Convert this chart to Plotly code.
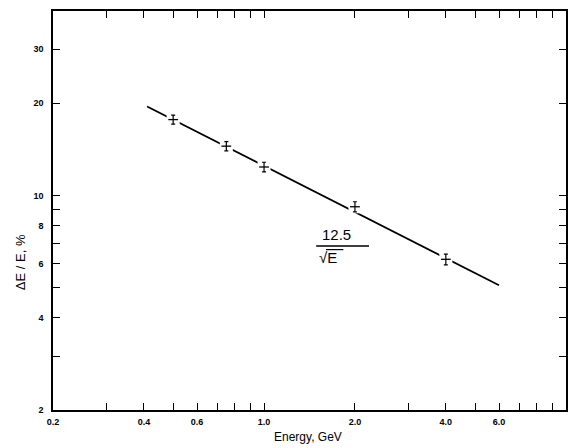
import numpy as np
import plotly.graph_objects as go

# Data
energy = [0.5, 0.75, 1.0, 2.0, 4.0]          # GeV
resolution = [17.7, 14.5, 12.4, 9.2, 6.2]     # dE/E, %
res_err = [0.6, 0.5, 0.45, 0.35, 0.25]        # vertical error, %
fit_coef = 12.5                               # 12.5 / sqrt(E)
fit_energy = [0.41, 0.5, 0.75, 1.0, 2.0, 4.0, 6.0]
fit_values = [fit_coef / np.sqrt(e) for e in fit_energy]

x_tickvals = [0.2, 0.3, 0.4, 0.5, 0.6, 0.7, 0.8, 0.9, 1.0, 2, 3, 4, 5, 6, 7, 8, 9]
x_ticktext = ["0.2", "", "0.4", "", "0.6", "", "", "", "1.0", "2.0", "", "4.0", "", "6.0", "", "", ""]
y_tickvals = [2, 3, 4, 5, 6, 7, 8, 9, 10, 20, 30]
y_ticktext = ["2", "", "4", "", "6", "", "8", "", "10", "20", "30"]

FONT = "Liberation Sans, Arial, sans-serif"

fig = go.Figure()
fig.add_trace(go.Scatter(x=fit_energy, y=fit_values, mode="lines",
                         line=dict(color="black", width=1.8), hoverinfo="skip"))
# white gaps around the measured points
fig.add_trace(go.Scatter(x=energy, y=resolution, mode="markers",
                         marker=dict(symbol="square", size=13, color="white", line=dict(width=0)),
                         hoverinfo="skip"))
fig.add_trace(go.Scatter(x=energy, y=resolution, mode="markers",
                         marker=dict(symbol="line-ew", size=7, line=dict(color="black", width=1.3)),
                         error_y=dict(type="data", array=res_err, color="black", thickness=1.2, width=2)))

fig.update_layout(
    width=577, height=448,
    margin=dict(l=53, r=9, t=11, b=38),
    paper_bgcolor="white", plot_bgcolor="white",
    showlegend=False,
    font=dict(family=FONT, color="black", size=9),
)
axis_common = dict(type="log", showgrid=False, zeroline=False, showline=True, linecolor="black",
                   linewidth=1.6, mirror="ticks", ticks="inside", ticklen=7, tickwidth=1.2,
                   tickcolor="black", tickfont=dict(size=9, family=FONT, weight="bold"))
fig.update_xaxes(range=[np.log10(0.2), np.log10(10)], tickvals=x_tickvals, ticktext=x_ticktext,
                 ticklabelstandoff=2, **axis_common)
fig.update_yaxes(range=[np.log10(2), np.log10(40)], tickvals=y_tickvals, ticktext=y_ticktext,
                 ticklabelstandoff=6, **axis_common)

fig.add_annotation(text="Energy, GeV", xref="paper", yref="paper", x=0.497, y=-0.068,
                   xanchor="center", yanchor="middle",
                   showarrow=False, font=dict(size=12, family=FONT))
fig.add_annotation(text="ΔE / E, %", xref="paper", yref="paper", x=-0.062, y=0.371,
                   xanchor="center", yanchor="middle",
                   textangle=-90, showarrow=False, font=dict(size=13, family=FONT))
fig.add_annotation(text="12.5", xref="paper", yref="paper", x=0.552, y=0.44,
                   xanchor="center", yanchor="middle",
                   showarrow=False, font=dict(size=15, family=FONT))
fig.add_annotation(text="√E", xref="paper", yref="paper", x=0.537, y=0.383,
                   xanchor="center", yanchor="middle",
                   showarrow=False, font=dict(size=15, family=FONT))
fig.add_shape(type="line", xref="paper", yref="paper", x0=0.513, x1=0.616, y0=0.411, y1=0.411,
              line=dict(color="black", width=1.5))
fig.add_shape(type="line", xref="paper", yref="paper", x0=0.532, x1=0.566, y0=0.402, y1=0.402,
              line=dict(color="black", width=1.2))

fig.write_html("out.html")
